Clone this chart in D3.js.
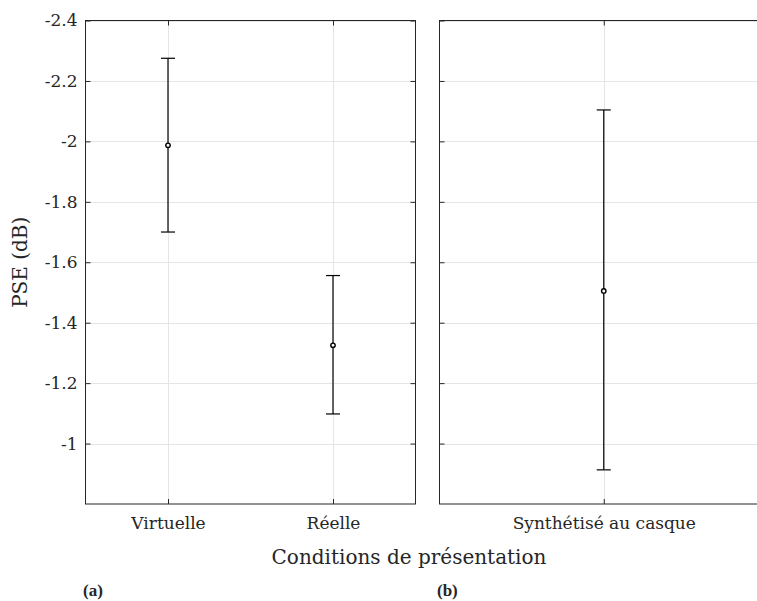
<!DOCTYPE html>
<html>
<head>
<script src="https://d3js.org/d3.v7.min.js"></script>
<style>
body { margin: 0; background: #fff; }
text { font-family: "DejaVu Serif", "Liberation Serif", serif; fill: #262626; }
.grid line { stroke: #e5e5e5; stroke-width: 1; }
.frame { fill: none; stroke: #262626; stroke-width: 1; }
</style>
</head>
<body>
<svg width="757" height="601"></svg>
<script>
// data
var leftCats = ["Virtuelle", "Réelle"];
var leftMean = [-1.987, -1.325];
var leftHigh = [-2.275, -1.556];
var leftLow = [-1.700, -1.098];

var rightCats = ["Synthétisé au casque"];
var rightMean = [-1.505];
var rightHigh = [-2.104];
var rightLow = [-0.913];

var yTicks = [-2.4, -2.2, -2, -1.8, -1.6, -1.4, -1.2, -1];

var svg = d3.select("svg");
var plotTop = 20.5, plotBottom = 504;

var y = d3.scaleLinear().domain([-2.4, -0.8]).range([plotTop, plotBottom]);

function panel(x0, x1, cats, mean, high, low, showLabels) {
	var x = d3.scalePoint().domain(cats).range([x0, x1]).padding(cats.length == 1 ? 1 : 0.5);
	var g = svg.append("g");

	// grid
	var grid = g.append("g").attr("class", "grid");
	grid.selectAll(".gy").data(yTicks).enter().append("line")
		.attr("x1", x0).attr("x2", x1)
		.attr("y1", function(d) { return Math.round(y(d)) + 0.5; })
		.attr("y2", function(d) { return Math.round(y(d)) + 0.5; });
	grid.selectAll(".gx").data(cats).enter().append("line")
		.attr("y1", plotTop).attr("y2", plotBottom)
		.attr("x1", function(d) { return Math.round(x(d)) + 0.5; })
		.attr("x2", function(d) { return Math.round(x(d)) + 0.5; });

	// axes with inward ticks
	var yl = d3.axisLeft(y).tickValues(yTicks).tickSizeInner(-5).tickSizeOuter(0)
		.tickFormat(showLabels ? function(d) { return String(d); } : "");
	var ya = g.append("g").attr("transform", "translate(" + x0 + ",0)").call(yl);
	ya.selectAll("text").attr("x", -8).style("font-size", "17px");
	g.append("g").attr("transform", "translate(" + x1 + ",0)")
		.call(d3.axisRight(y).tickValues(yTicks).tickSizeInner(-5).tickSizeOuter(0).tickFormat(""));
	var xb = g.append("g").attr("transform", "translate(0," + plotBottom + ")")
		.call(d3.axisBottom(x).tickSizeInner(-5).tickSizeOuter(0));
	xb.selectAll("text").attr("y", 13).style("font-size", "17px");
	g.append("g").attr("transform", "translate(0," + plotTop + ")")
		.call(d3.axisTop(x).tickSizeInner(-5).tickSizeOuter(0).tickFormat(""));
	g.selectAll(".domain").remove();
	g.selectAll(".tick line").attr("stroke", "#262626");
	g.selectAll(".tick text").attr("fill", "#262626").style("font-family", "DejaVu Serif");

	g.append("rect").attr("class", "frame")
		.attr("x", x0).attr("y", plotTop).attr("width", x1 - x0).attr("height", plotBottom - plotTop);

	// error bars
	var bars = g.selectAll(".eb").data(cats).enter().append("g");
	bars.append("line")
		.attr("x1", function(d) { return x(d); }).attr("x2", function(d) { return x(d); })
		.attr("y1", function(d, i) { return y(high[i]); })
		.attr("y2", function(d, i) { return y(low[i]); })
		.attr("stroke", "#000").attr("stroke-width", 1.2);
	[high, low].forEach(function(arr) {
		bars.append("line")
			.attr("x1", function(d) { return x(d) - 7; }).attr("x2", function(d) { return x(d) + 7; })
			.attr("y1", function(d, i) { return y(arr[i]); })
			.attr("y2", function(d, i) { return y(arr[i]); })
			.attr("stroke", "#000").attr("stroke-width", 1.2);
	});
	bars.append("circle")
		.attr("cx", function(d) { return x(d); })
		.attr("cy", function(d, i) { return y(mean[i]); })
		.attr("r", 2.2)
		.attr("fill", "#fff").attr("stroke", "#000").attr("stroke-width", 1.4);
}

panel(85.5, 415.5, leftCats, leftMean, leftHigh, leftLow, true);
panel(439.5, 768, rightCats, rightMean, rightHigh, rightLow, false);

svg.append("text")
	.attr("transform", "translate(27," + ((plotTop + plotBottom) / 2) + ") rotate(-90)")
	.attr("text-anchor", "middle")
	.style("font-size", "20px")
	.text("PSE (dB)");

svg.append("text")
	.attr("x", 409).attr("y", 564)
	.attr("text-anchor", "middle")
	.style("font-size", "20px")
	.text("Conditions de présentation");

svg.append("text").attr("x", 83).attr("y", 596)
	.style("font-family", "Liberation Serif")
	.style("font-size", "17px").style("font-weight", "bold").attr("fill", "#000").text("(a)");
svg.append("text").attr("x", 437).attr("y", 596)
	.style("font-family", "Liberation Serif")
	.style("font-size", "17px").style("font-weight", "bold").attr("fill", "#000").text("(b)");
</script>
</body>
</html>
